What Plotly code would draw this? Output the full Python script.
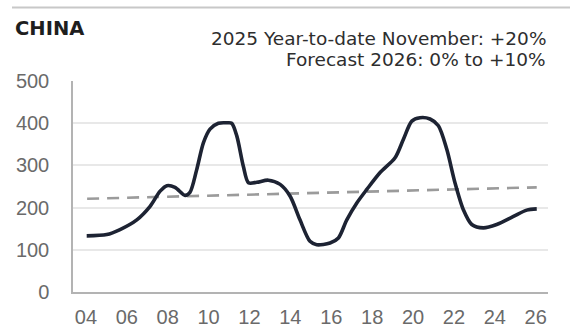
import plotly.graph_objects as go

# Traced series (decimal year, value)
years = [2004.04, 2005.02, 2005.67, 2006.49, 2007.14, 2007.63, 2007.96, 2008.36, 2008.85,
         2009.09, 2009.42, 2009.75, 2010.07, 2010.48, 2010.89, 2011.13, 2011.38, 2011.70,
         2011.95, 2012.36, 2012.92, 2013.50, 2013.99, 2014.47, 2014.96, 2015.29, 2015.94,
         2016.35, 2016.76, 2017.25, 2017.74, 2018.39, 2019.12, 2019.53, 2019.94,
         2020.34, 2020.83, 2021.24, 2021.65, 2022.05, 2022.46, 2022.87, 2023.44, 2024.09,
         2024.91, 2025.56, 2026.05]
values = [133, 136, 148, 171, 203, 239, 252, 248, 229,
          236, 290, 354, 386, 400, 401, 400, 370, 298,
          259, 260, 265, 255, 227, 171, 120, 112, 116,
          128, 171, 211, 243, 283, 318, 362, 405,
          413, 410, 394, 338, 259, 195, 160, 152, 160,
          179, 194, 197]

trend_years = [2004.06, 2026.05]
trend_values = [221, 248]

tick_years = [2004, 2006, 2008, 2010, 2012, 2014, 2016, 2018, 2020, 2022, 2024, 2026]
tick_text = ["04", "06", "08", "10", "12", "14", "16", "18", "20", "22", "24", "26"]
y_ticks = [0, 100, 200, 300, 400, 500]

title_text = "CHINA"
note_line1 = "2025 Year-to-date November: +20%"
note_line2 = "Forecast 2026: 0% to +10%"

fig = go.Figure()
fig.add_trace(go.Scatter(x=trend_years, y=trend_values, mode="lines",
                         line=dict(color="#9b9b9b", width=2.6, dash="12px,8px"),
                         hoverinfo="skip", showlegend=False))
fig.add_trace(go.Scatter(x=years, y=values, mode="lines",
                         line=dict(color="#1d2333", width=3.6, shape="spline", smoothing=0.8),
                         showlegend=False))

L, R, T, B = 73, 22, 81, 37
W, H = 570, 329
pw, ph = W - L - R, H - T - B

def px(x):
    return (x - L) / pw

def py(y):
    return (H - B - y) / ph

fig.update_layout(
    width=W, height=H,
    margin=dict(l=L, r=R, t=T, b=B, autoexpand=False),
    paper_bgcolor="white", plot_bgcolor="white",
    xaxis=dict(range=[2003.37, 2026.6], tickvals=tick_years, ticktext=tick_text,
               showgrid=False, zeroline=False, showline=True, linecolor="#b3b3b3", linewidth=1.5,
               ticks="", ticklabelstandoff=6,
               tickfont=dict(family="Liberation Sans", size=20, color="#6a6a6a"),
               automargin=False, fixedrange=True),
    yaxis=dict(range=[0, 500], tickvals=y_ticks,
               showgrid=True, gridcolor="#e8e8e8", gridwidth=1.5, zeroline=False,
               showline=True, linecolor="#b3b3b3", linewidth=1.5,
               ticks="", ticklabelstandoff=18,
               tickfont=dict(family="Liberation Sans", size=20, color="#6a6a6a"),
               automargin=False, fixedrange=True),
    shapes=[dict(type="line", xref="paper", yref="paper", x0=px(12), x1=px(570),
                 y0=py(7.5), y1=py(7.5), line=dict(color="#c8c8c8", width=2))],
    annotations=[
        dict(text="<b>" + title_text + "</b>", xref="paper", yref="paper", x=px(13), y=py(29),
             xanchor="left", yanchor="middle", showarrow=False,
             font=dict(family="DejaVu Sans", size=19.5, color="#1e1e1e")),
        dict(text=note_line1, xref="paper", yref="paper", x=px(548), y=py(38),
             xanchor="right", yanchor="middle", showarrow=False,
             font=dict(family="DejaVu Sans", size=18.5, color="#2e2e2e")),
        dict(text=note_line2, xref="paper", yref="paper", x=px(548), y=py(59.5),
             xanchor="right", yanchor="middle", showarrow=False,
             font=dict(family="DejaVu Sans", size=18.5, color="#2e2e2e")),
    ],
)

fig.write_html("out.html", config={"displayModeBar": False})
